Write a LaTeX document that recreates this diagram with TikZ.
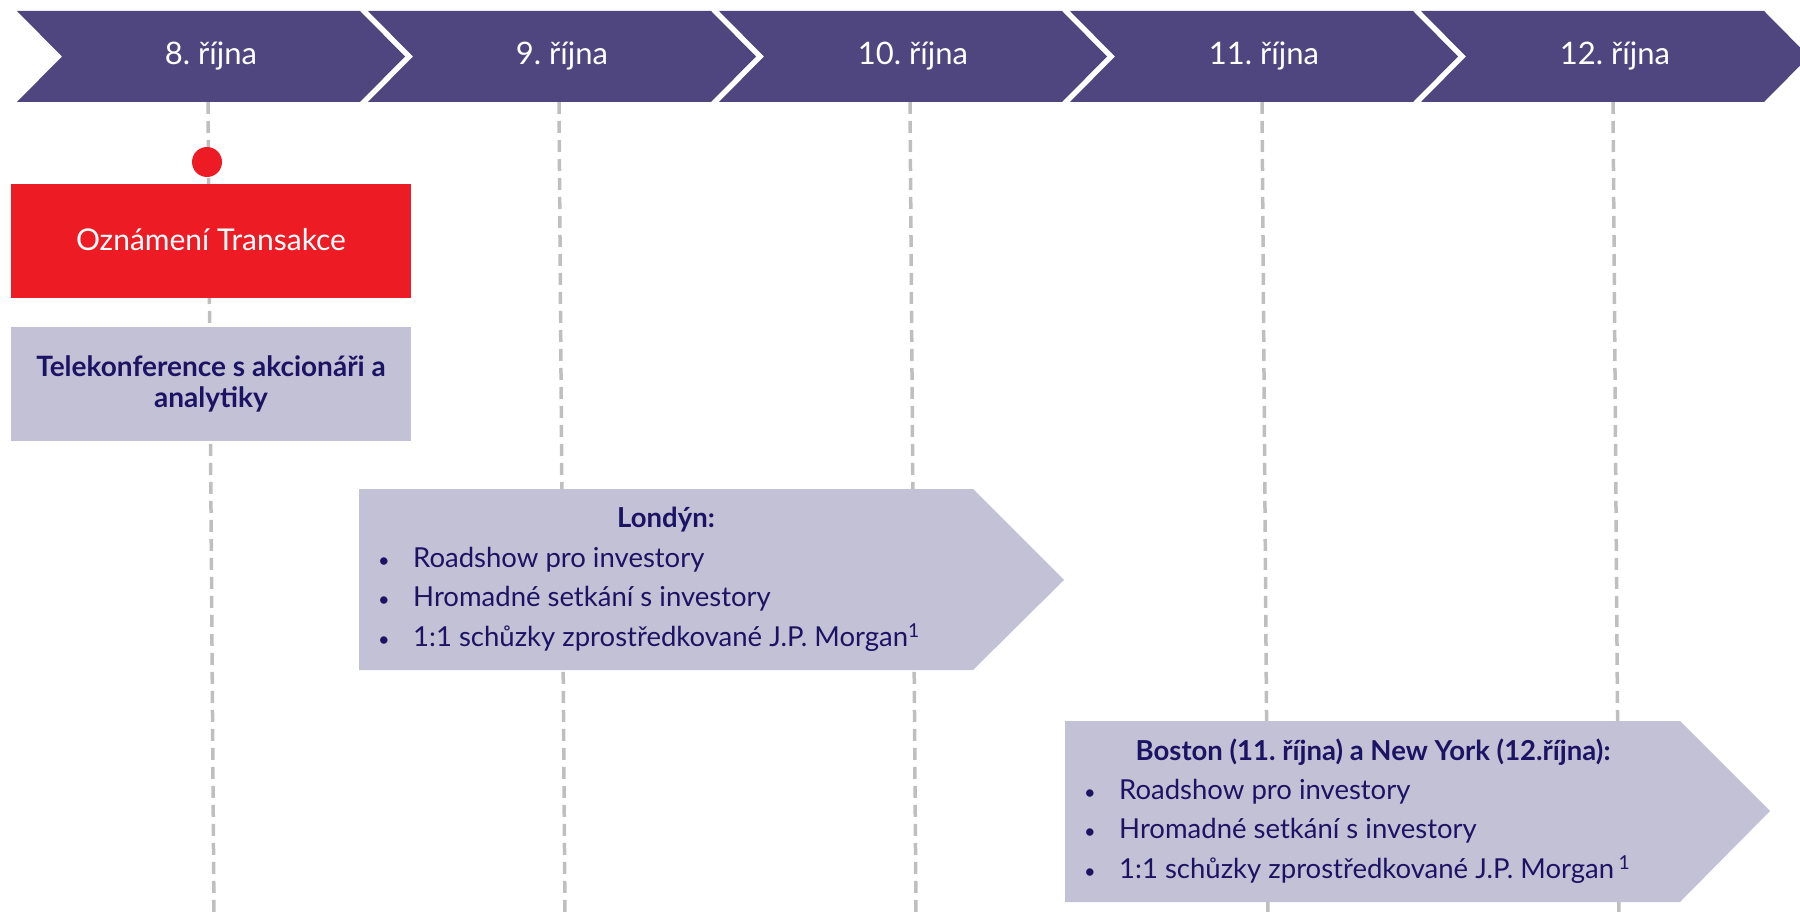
\documentclass[tikz,border=0pt]{standalone}
\usepackage{fontspec}
\setmainfont{Lato}
\usetikzlibrary{positioning}

\definecolor{dayband}{HTML}{4F4680}
\definecolor{boxgray}{HTML}{C3C1D6}
\definecolor{inkblue}{HTML}{1B1464}
\definecolor{alertred}{HTML}{ED1C24}
\definecolor{guidegray}{HTML}{BFBFBF}

\tikzset{
  daylabel/.style={text=white, inner sep=0pt, font=\fontsize{31}{36}\selectfont},
  guide/.style={draw=guidegray, line width=3.5pt, dash pattern=on 12pt off 7pt},
  dotmark/.style={circle, fill=alertred, minimum size=30pt, inner sep=0pt},
  redbox/.style={fill=alertred, text=white, minimum width=400pt, minimum height=114pt,
    inner sep=0pt, font=\fontsize{30}{36}\selectfont},
  notebox/.style={fill=boxgray, text=inkblue, minimum width=400pt, minimum height=114pt,
    inner sep=0pt, align=center, font=\bfseries\fontsize{28}{31}\selectfont},
  listtitle/.style={text=inkblue, inner sep=0pt, font=\bfseries\fontsize{27.5}{31}\selectfont},
  listline/.style={text=inkblue, inner sep=0pt, anchor=west, font=\fontsize{27.5}{31}\selectfont}
}
\newcommand{\bul}{\makebox[35pt][l]{\fontsize{20}{20}\selectfont\textbullet}}

\begin{document}
\begin{tikzpicture}[x=1pt,y=-1pt]
    \clip (0,0) rectangle (1800,917);

    % dashed guides under each day
    \foreach \gx [count=\i] in {208,559,910,1262,1613}{
        \coordinate (top\i) at (\gx,102);
        \coordinate (bot\i) at (\gx+6,917);
        \draw[guide] (top\i) -- (bot\i);
    }

    % day chevrons
    \foreach \dnum [count=\i] in {8,9,10,11,12}{
        \pgfmathsetmacro{\xa}{17+351*(\i-1)}
        \fill[dayband] (\xa,11) -- ++(343,0) -- ++(45,45.5) -- ++(-45,45.5)
            -- ++(-343,0) -- ++(45,-45.5) -- cycle;
        \node[daylabel] (day\i) at (\xa+194,56) {\dnum.~října};
    }

    % announcement day
    \node[dotmark] (start) at (207,162) {};
    \node[redbox] (announce) at (211,241) {\raisebox{3.5pt}{Oznámení Transakce}};
    \node[notebox] (call) at (211,384) {Telekonference s akcionáři a\\analytiky};

    % London roadshow
    \fill[boxgray] (359,489) -- (973,489) -- (1064,580) -- (973,670) -- (359,670) -- cycle;
    \node[listtitle] (lonT) at (666,520) {Londýn:};
    \foreach \txt [count=\i] in {Roadshow pro investory, Hromadné setkání s investory,
        {1:1 schůzky zprostředkované J.P.~Morgan\textsuperscript{1}}}{
        \node[listline] (lon\i) at (378,521+39*\i) {\bul\txt};
    }

    % Boston and New York roadshow
    \fill[boxgray] (1065,721) -- (1680,721) -- (1770,811) -- (1680,902) -- (1065,902) -- cycle;
    \node[listtitle] (bosT) at (1373,752) {Boston (11.~října) a New York (12.října):};
    \foreach \txt [count=\i] in {Roadshow pro investory, Hromadné setkání s investory,
        {1:1 schůzky zprostředkované J.P.~Morgan\,\textsuperscript{1}}}{
        \node[listline] (bos\i) at (1084,753+39*\i) {\bul\txt};
    }
\end{tikzpicture}
\end{document}
